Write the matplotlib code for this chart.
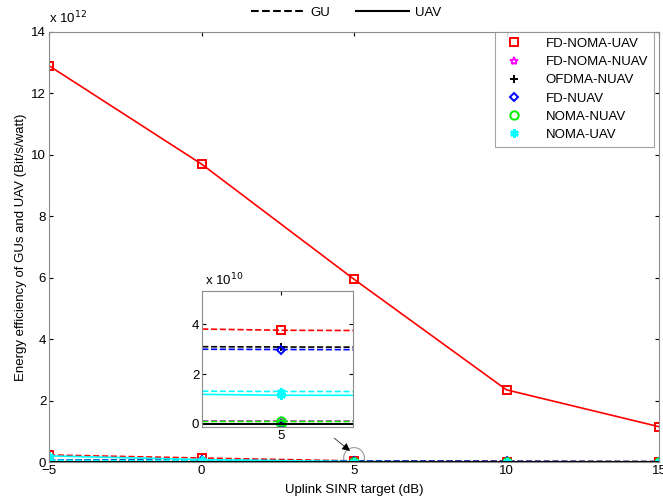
import matplotlib
matplotlib.use("Agg")
import matplotlib.pyplot as plt
from matplotlib.lines import Line2D
from matplotlib.patches import Ellipse
import numpy as np

plt.rcParams["font.family"] = ["Liberation Sans", "DejaVu Sans"]
plt.rcParams["font.size"] = 9.5

# Uplink SINR target (dB)
sinr_db = [-5, 0, 5, 10, 15]

# energy efficiency, units of 1e12 bit/s/watt
fd_noma_uav_gu = [0.23, 0.13, 0.0375, 0.016, 0.010]
fd_noma_uav_uav = [12.9, 9.7, 5.95, 2.35, 1.15]
fd_noma_nuav_gu = [0.012, 0.006, 0.0012, 0.0006, 0.0003]
ofdma_nuav_gu = [0.07, 0.055, 0.0308, 0.02, 0.012]
fd_nuav_gu = [0.065, 0.05, 0.0298, 0.019, 0.011]
noma_nuav_gu = [0.011, 0.005, 0.0010, 0.0005, 0.0003]
noma_uav_gu = [0.06, 0.035, 0.013, 0.007, 0.004]
noma_uav_uav = [0.2, 0.08, 0.0115, 0.006, 0.003]
nuav_uav = [0.0, 0.0, 0.0, 0.0, 0.0]

series = [
    # label, color, marker, GU values, UAV values
    ("FD-NOMA-UAV", "red", "s", fd_noma_uav_gu, fd_noma_uav_uav),
    ("FD-NOMA-NUAV", "magenta", "*", fd_noma_nuav_gu, nuav_uav),
    ("OFDMA-NUAV", "black", "+", ofdma_nuav_gu, nuav_uav),
    ("FD-NUAV", "blue", "D", fd_nuav_gu, nuav_uav),
    ("NOMA-NUAV", "#00ee00", "o", noma_nuav_gu, nuav_uav),
    ("NOMA-UAV", "cyan", (6, 2, 0), noma_uav_gu, noma_uav_uav),
]

SPINE = "#8c8c8c"
FS = 9.5


def marker_style(marker, color):
    filled = marker in ("+", (6, 2, 0))
    return dict(marker=marker, color=color, mfc=color if filled else "none",
                ms=4.5 if marker == "D" else 6,
                mew=1.8 if marker == (6, 2, 0) else 1.4)


def style_axes(ax):
    for s in ax.spines.values():
        s.set_color(SPINE)
        s.set_linewidth(0.8)
    ax.tick_params(direction="in", top=True, right=True, length=3,
                   color="black", labelsize=FS, pad=2)


def draw(ax, scale, markers_at=None):
    x = np.asarray(sinr_db, dtype=float)
    for label, color, marker, gu, uav in series:
        for vals, ls in ((gu, "--"), (uav, "-")):
            y = np.asarray(vals) * scale
            ax.plot(x, y, ls=ls, color=color, lw=1.2)
            if markers_at is None:
                mx, my = x, y
            else:
                mx, my = x[markers_at], y[markers_at]
            ax.plot(mx, my, ls="none", **marker_style(marker, color))
    # UAV line of the NUAV schemes ends up black on top
    ax.plot(x, np.asarray(nuav_uav) * scale, "-", color="black", lw=1.4)


fig = plt.figure(figsize=(6.63, 4.99), dpi=100)
ax = fig.add_axes([0.0739, 0.0741, 0.9201, 0.8619])
draw(ax, 1.0)
ax.set_xlim(-5, 15)
ax.set_ylim(0, 14)
ax.set_xticks(sinr_db)
ax.set_yticks(np.arange(0, 15, 2))
style_axes(ax)
ax.set_xlabel("Uplink SINR target (dB)", labelpad=5)
ax.set_ylabel("Energy efficiency of GUs and UAV (Bit/s/watt)", labelpad=3)
ax.text(0.0, 1.012, r"x 10$^{12}$", transform=ax.transAxes, ha="left", va="bottom", fontsize=FS)

# marker legend
mk_handles = [Line2D([], [], ls="none", label=label, **marker_style(marker, color))
              for label, color, marker, gu, uav in series]
leg = ax.legend(handles=mk_handles, loc="upper right", bbox_to_anchor=(0.992, 1.0),
                frameon=True, fancybox=False, borderpad=0.45, labelspacing=0.45,
                handletextpad=1.4, borderaxespad=0, fontsize=FS)
leg.get_frame().set_edgecolor(SPINE)
leg.get_frame().set_linewidth(0.8)

# line style legend above the axes
ls_handles = [Line2D([], [], ls="--", color="black", lw=1.5, label="GU"),
              Line2D([], [], ls="-", color="black", lw=1.5, label="UAV")]
fig.legend(handles=ls_handles, loc="center", bbox_to_anchor=(0.522, 0.975), ncol=2,
           frameon=False, handlelength=4.0, handletextpad=0.5, columnspacing=2.0,
           fontsize=FS)

# zoom marker: circle and arrow
ax.add_patch(Ellipse((5, 0.13), 0.68, 0.68, fill=False, ec="#999999", lw=0.8))
ax.annotate("", xy=(4.87, 0.36), xytext=(4.35, 0.78),
            arrowprops=dict(arrowstyle="-|>", color="black", lw=0.5,
                            mutation_scale=12, shrinkA=0, shrinkB=0))

# inset, units of 1e10
ins = fig.add_axes([0.3047, 0.1443, 0.2277, 0.2725])
draw(ins, 100.0, markers_at=[2])
ins.set_xlim(4.974, 5.0237)
ins.set_ylim(-0.12, 5.32)
ins.set_xticks([5])
ins.set_yticks([0, 2, 4])
style_axes(ins)
ins.text(0.02, 1.02, r"x 10$^{10}$", transform=ins.transAxes, ha="left", va="bottom", fontsize=FS)

fig.savefig("out.png", dpi=100)
plt.close(fig)
